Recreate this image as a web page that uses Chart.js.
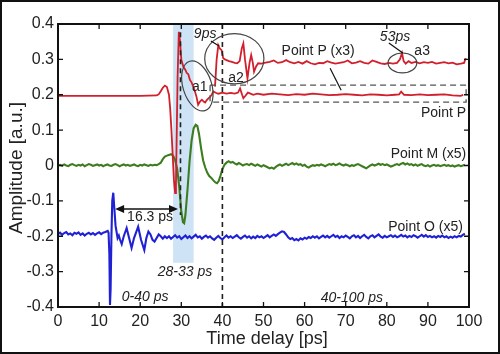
<!DOCTYPE html>
<html>
<head>
<meta charset="utf-8">
<script src="https://cdn.jsdelivr.net/npm/chart.js@4"></script>
<style>
  html, body { margin: 0; padding: 0; background: #fff; }
  #wrap { width: 500px; height: 354px; }
</style>
</head>
<body>
<div id="wrap"><canvas id="traceChart" width="500" height="354"></canvas></div>
<script>
// sample spacing of the quiet (noise) segments, ps
const STEP = 0.5;

// Point P (main trace, continues as lower trace in the dashed box)
const redT = [0, 4, 8, 12, 16, 20, 24, 24.5, 25, 25.5, 26, 26.5, 27, 27.3, 27.6, 27.9, 28.2, 28.5, 28.7, 28.9, 29.1, 29.4, 29.7, 30, 30.5, 31, 31.3, 31.7, 32.1, 32.5, 32.9, 33.3, 33.7, 34.1, 34.5, 35, 35.5, 35.8, 36.2, 36.6, 37, 37.4, 37.8, 38.5, 39, 40, 41, 42, 43, 43.8, 44.3, 44.8, 45.1, 45.6, 46.2, 46.7, 47.5, 48.5, 50, 52, 54, 56, 58, 60, 62, 64, 66, 68, 70, 72, 74, 76, 78, 80, 82, 83, 83.5, 84.2, 86, 88, 90, 92, 94, 96, 98, 98.6];
const redV = [0.197, 0.197, 0.197, 0.197, 0.197, 0.197, 0.198, 0.201, 0.21, 0.22, 0.226, 0.222, 0.2, 0.16, 0.1, 0.03, -0.04, -0.078, -0.05, 0.1, 0.25, 0.378, 0.35, 0.3, 0.279, 0.27, 0.262, 0.258, 0.242, 0.235, 0.223, 0.21, 0.194, 0.172, 0.18, 0.186, 0.18, 0.178, 0.185, 0.19, 0.194, 0.2, 0.209, 0.205, 0.203, 0.206, 0.203, 0.205, 0.203, 0.206, 0.218, 0.2, 0.19, 0.197, 0.206, 0.204, 0.2, 0.203, 0.2, 0.203, 0.201, 0.199, 0.202, 0.2, 0.203, 0.201, 0.199, 0.2, 0.202, 0.2, 0.198, 0.201, 0.2, 0.198, 0.2, 0.201, 0.209, 0.2, 0.199, 0.201, 0.199, 0.2, 0.201, 0.198, 0.197, 0.2];

// Point P (x3), drawn above the dashed box
const redX3T = [38.2, 38.6, 39.0, 39.4, 39.8, 40.2, 40.6, 41.0, 41.6, 42.3, 43, 43.6, 44.2, 44.7, 45.1, 45.5, 46.1, 46.6, 47, 47.4, 47.7, 48.2, 48.7, 49.5, 50.5, 51.5, 52.5, 53.5, 54.5, 55.5, 56.5, 57.5, 58.5, 59.5, 60.5, 61.5, 62.5, 63.5, 64.5, 65.5, 66.5, 67.5, 68.5, 69.5, 70.5, 71.5, 72.5, 73.5, 74.5, 75.5, 76.5, 77.5, 78.5, 79.5, 80.5, 81.5, 82.5, 83.2, 83.7, 84.1, 84.6, 85.3, 86, 87, 88, 89, 90, 91, 92, 93, 94, 95, 96, 97, 98, 98.8, 99.2];
const redX3V = [0.223, 0.3, 0.34, 0.33, 0.326, 0.303, 0.3, 0.298, 0.295, 0.293, 0.29, 0.289, 0.295, 0.33, 0.345, 0.3, 0.246, 0.29, 0.312, 0.29, 0.265, 0.28, 0.289, 0.288, 0.291, 0.293, 0.297, 0.29, 0.292, 0.298, 0.292, 0.289, 0.293, 0.288, 0.295, 0.289, 0.286, 0.29, 0.289, 0.295, 0.291, 0.288, 0.29, 0.292, 0.297, 0.289, 0.291, 0.295, 0.29, 0.288, 0.297, 0.293, 0.289, 0.287, 0.29, 0.288, 0.29, 0.3, 0.318, 0.295, 0.288, 0.295, 0.29, 0.293, 0.289, 0.292, 0.29, 0.293, 0.288, 0.29, 0.292, 0.289, 0.291, 0.286, 0.288, 0.29, 0.303];

// Point M (x5)
const greenQuietA = [0.0, 0.002, -0.001, 0.003, 0.0, -0.002, 0.002, 0.004, 0.001, -0.001, 0.002, 0.0, 0.003, -0.002, 0.001, 0.004, 0.002, -0.001, 0.001, 0.003, 0.0, 0.002, -0.002, 0.001, 0.003, 0.0, -0.001, 0.002, 0.004, 0.001, -0.002, 0.001, 0.003, 0.0, 0.002, -0.001, 0.001, 0.003, 0.0, -0.002, 0.002, 0.0, 0.003, 0.001, -0.001, 0.002, 0.0, 0.002, 0.001, 0.004]; // from 0 ps
const greenT = [25, 25.5, 26, 26.5, 27, 27.5, 28, 28.5, 29, 29.5, 30, 30.4, 30.7, 31, 31.5, 32, 32.5, 33, 33.5, 33.9, 34.3, 34.8, 35.3, 35.8, 36.3, 36.8, 37.3, 37.8, 38.3, 38.7, 39.1, 39.5, 40, 40.5, 41, 41.5, 42, 42.5, 43, 43.5, 44, 44.5, 45, 45.5];
const greenV = [0.008, 0.018, 0.025, 0.028, 0.03, 0.032, 0.028, 0.015, -0.01, -0.06, -0.13, -0.16, -0.163, -0.14, -0.07, 0.01, 0.07, 0.105, 0.115, 0.112, 0.09, 0.05, 0.015, -0.005, -0.02, -0.03, -0.035, -0.042, -0.048, -0.05, -0.044, -0.03, -0.01, 0.002, 0.008, 0.012, 0.008, 0.01, 0.006, 0.003, 0.007, 0.004, 0.0, 0.003];
const greenQuietB = [0.004, 0.001, 0.005, 0.002, -0.001, 0.003, 0.0, -0.003, 0.001, -0.002, -0.005, -0.008, -0.006, -0.009, -0.004, 0.0, 0.003, -0.001, 0.002, 0.005, 0.001, 0.004, 0.007, 0.003, 0.006, 0.002, 0.004, -0.001, 0.002, -0.003, -0.006, -0.002, 0.001, -0.001, 0.002, 0.0, 0.003, 0.001, -0.002, 0.001, 0.004, 0.002, 0.005, 0.001, 0.003, 0.006, 0.002, 0.0, 0.003, 0.001, -0.002, 0.001, -0.001, 0.002, 0.004, 0.001, -0.002, -0.005, -0.008, -0.004, 0.0, 0.003, 0.0, 0.002, 0.005, 0.002, 0.004, 0.001, 0.003, 0.0, -0.003, -0.001, 0.002, 0.004, 0.001, 0.005, 0.007, 0.003, 0.006, 0.002, 0.004, 0.0, 0.003, -0.001, 0.002, 0.004, 0.0, -0.002, 0.001, -0.003, 0.0, 0.002, -0.001, 0.001, -0.002, 0.0, 0.002, -0.001, 0.001, -0.002, 0.0, -0.003, -0.001, 0.001, -0.002, 0.0, 0.002]; // from 46 ps

// Point O (x5)
const blueQuietA = [-0.194, -0.19, -0.196, -0.191, -0.188, -0.195, -0.192, -0.197, -0.19, -0.193, -0.189, -0.196, -0.192, -0.198, -0.193, -0.19, -0.195, -0.191, -0.196, -0.192, -0.189, -0.194, -0.19, -0.188]; // from 0 ps
const blueT = [12.1, 12.3, 12.5, 12.65, 12.8, 13.0, 13.2, 13.45, 13.7, 14.0, 14.5, 14.8, 15.1, 15.5, 16.0, 16.7, 17.3, 17.9, 18.5, 19.5, 20.2, 21.0, 21.5, 22.0, 22.5, 23.0, 23.5, 24, 24.5, 25, 25.5, 26];
const blueV = [-0.185, -0.19, -0.25, -0.394, -0.35, -0.2, -0.1, -0.077, -0.12, -0.17, -0.205, -0.198, -0.21, -0.222, -0.2, -0.177, -0.205, -0.233, -0.205, -0.173, -0.21, -0.239, -0.205, -0.187, -0.195, -0.21, -0.215, -0.205, -0.195, -0.2, -0.207, -0.2];
const blueQuietB = [-0.205, -0.2, -0.207, -0.202, -0.197, -0.204, -0.2, -0.208, -0.203, -0.198, -0.205, -0.2, -0.206, -0.201, -0.196, -0.203, -0.2, -0.207, -0.202, -0.198, -0.204, -0.2, -0.206, -0.21, -0.204, -0.199, -0.205, -0.209, -0.203, -0.198, -0.204, -0.2, -0.205, -0.201, -0.197, -0.203, -0.207, -0.202, -0.198, -0.204, -0.2, -0.206, -0.201, -0.205, -0.199, -0.203, -0.2, -0.205, -0.201, -0.197, -0.203, -0.199, -0.195, -0.199, -0.194, -0.19, -0.186, -0.188, -0.195, -0.203, -0.208, -0.205, -0.211, -0.208, -0.212, -0.206, -0.209, -0.204, -0.207, -0.202, -0.205, -0.2, -0.204, -0.2, -0.206, -0.202, -0.198, -0.203, -0.199, -0.204, -0.2, -0.196, -0.202, -0.199, -0.205, -0.2, -0.203, -0.198, -0.202, -0.206, -0.2, -0.197, -0.203, -0.199, -0.205, -0.2, -0.196, -0.202, -0.206, -0.2, -0.197, -0.203, -0.199, -0.195, -0.201, -0.204, -0.199, -0.203, -0.2, -0.197, -0.202, -0.198, -0.203, -0.2, -0.196, -0.201, -0.198, -0.203, -0.199, -0.202, -0.197, -0.2, -0.204, -0.2, -0.196, -0.201, -0.197, -0.202, -0.199, -0.203, -0.2, -0.204, -0.199, -0.202, -0.198, -0.203, -0.2, -0.205, -0.201, -0.204, -0.2, -0.203, -0.199, -0.201, -0.196, -0.193]; // from 26.5 ps

const xTicks = [0, 10, 20, 30, 40, 50, 60, 70, 80, 90, 100];
const yTicks = [-0.4, -0.3, -0.2, -0.1, 0, 0.1, 0.2, 0.3, 0.4];

function pairs(t, v) { return t.map((x, i) => ({ x: x, y: v[i] })); }
function sampled(start, v) { return v.map((y, i) => ({ x: start + i * STEP, y: y })); }

const FONT = '"Liberation Sans", Arial, sans-serif';

const overlay = {
    id: 'overlay',
    beforeDatasetsDraw(chart) {
        const { ctx, scales: { x, y } } = chart;
        ctx.save();
        // 28-33 ps band
        ctx.fillStyle = 'rgba(190, 218, 242, 0.75)';
        ctx.fillRect(x.getPixelForValue(28), y.getPixelForValue(0.4),
            x.getPixelForValue(33) - x.getPixelForValue(28),
            y.getPixelForValue(-0.275) - y.getPixelForValue(0.4));
        ctx.restore();
    },
    afterDatasetsDraw(chart) {
        const { ctx, scales: { x, y } } = chart;
        const px = v => x.getPixelForValue(v);
        const py = v => y.getPixelForValue(v);
        ctx.save();

        // dashed markers
        ctx.strokeStyle = '#222';
        ctx.lineWidth = 1.6;
        ctx.setLineDash([5, 4]);
        ctx.beginPath();
        ctx.moveTo(px(40), py(0.4)); ctx.lineTo(px(40), py(-0.4));
        ctx.moveTo(px(29.8), py(0.377)); ctx.lineTo(px(29.8), py(-0.14));
        ctx.stroke();

        // dashed box round Point P
        ctx.strokeStyle = '#555';
        ctx.lineWidth = 1.3;
        ctx.setLineDash([6, 4]);
        ctx.strokeRect(px(37), py(0.227), px(99.3) - px(37), py(0.179) - py(0.227));
        ctx.setLineDash([]);

        // ellipses
        ctx.strokeStyle = '#444';
        ctx.lineWidth = 1.2;
        const ell = (cx, cy, rx, ry, rot) => {
            ctx.beginPath();
            ctx.ellipse(px(cx), py(cy), px(cx + rx) - px(cx), py(cy) - py(cy + ry), rot, 0, Math.PI * 2);
            ctx.stroke();
        };
        ell(33.9, 0.225, 3.5, 0.073, -0.3);
        ell(42.9, 0.302, 7.2, 0.071, 0);
        ell(83.8, 0.29, 3.5, 0.028, 0);

        // leader lines
        ctx.strokeStyle = '#111';
        ctx.lineWidth = 1.2;
        const seg = (x1, y1, x2, y2) => {
            ctx.beginPath(); ctx.moveTo(px(x1), py(y1)); ctx.lineTo(px(x2), py(y2)); ctx.stroke();
        };
        seg(37.2, 0.352, 39.2, 0.338);
        seg(66.2, 0.275, 68.9, 0.213);
        seg(80.5, 0.346, 83.9, 0.318);

        // 16.3 ps arrow
        const ay = py(-0.123), ax1 = px(13.9), ax2 = px(29.2);
        ctx.lineWidth = 1.5;
        ctx.beginPath(); ctx.moveTo(ax1 + 4, ay); ctx.lineTo(ax2 - 4, ay); ctx.stroke();
        ctx.fillStyle = '#111';
        ctx.beginPath(); ctx.moveTo(ax1, ay); ctx.lineTo(ax1 + 9, ay - 4); ctx.lineTo(ax1 + 9, ay + 4); ctx.closePath(); ctx.fill();
        ctx.beginPath(); ctx.moveTo(ax2, ay); ctx.lineTo(ax2 - 9, ay - 4); ctx.lineTo(ax2 - 9, ay + 4); ctx.closePath(); ctx.fill();

        // texts
        ctx.fillStyle = '#222';
        ctx.textBaseline = 'middle';
        const txt = (s, tx, ty, align, italic) => {
            ctx.font = (italic ? 'italic ' : '') + '14px ' + FONT;
            ctx.textAlign = align;
            ctx.fillText(s, px(tx), py(ty));
        };
        txt('9ps', 35.8, 0.371, 'center', true);
        txt('a1', 34.5, 0.222, 'center', false);
        txt('a2', 43.3, 0.247, 'center', false);
        txt('Point P (x3)', 63.3, 0.323, 'center', false);
        txt('53ps', 82, 0.363, 'center', true);
        txt('a3', 88.6, 0.323, 'center', false);
        txt('Point P', 99.3, 0.148, 'right', false);
        txt('Point M (x5)', 99.3, 0.032, 'right', false);
        txt('Point O (x5)', 98.5, -0.174, 'right', false);
        txt('16.3 ps', 22.4, -0.145, 'center', false);
        txt('28-33 ps', 30.9, -0.3, 'center', true);
        txt('0-40 ps', 21.2, -0.371, 'center', true);
        txt('40-100 ps', 71.5, -0.374, 'center', true);
        ctx.restore();
    },
    afterDraw(chart) {
        const { ctx, chartArea: a, scales: { x, y } } = chart;
        ctx.save();
        // plot frame and inward ticks
        ctx.strokeStyle = '#111';
        ctx.lineWidth = 2;
        ctx.strokeRect(a.left, a.top, a.right - a.left, a.bottom - a.top);
        ctx.lineWidth = 1.3;
        ctx.beginPath();
        xTicks.forEach(v => {
            const p = x.getPixelForValue(v);
            ctx.moveTo(p, a.bottom); ctx.lineTo(p, a.bottom - 5);
            ctx.moveTo(p, a.top); ctx.lineTo(p, a.top + 5);
        });
        yTicks.forEach(v => {
            const p = y.getPixelForValue(v);
            ctx.moveTo(a.left, p); ctx.lineTo(a.left + 5, p);
            ctx.moveTo(a.right, p); ctx.lineTo(a.right - 5, p);
        });
        ctx.stroke();

        // axis titles
        ctx.fillStyle = '#222';
        ctx.font = '18px ' + FONT;
        ctx.textAlign = 'center';
        ctx.textBaseline = 'middle';
        ctx.fillText('Time delay [ps]', 267, 339);
        ctx.translate(17, 168);
        ctx.rotate(-Math.PI / 2);
        ctx.font = '19px ' + FONT;
        ctx.fillText('Amplitude [a.u.]', 0, 0);
        ctx.restore();

        // picture border
        ctx.save();
        ctx.strokeStyle = '#111';
        ctx.lineWidth = 2;
        ctx.strokeRect(1, 1, chart.width - 2, chart.height - 2);
        ctx.restore();
    }
};

const lineSet = (data, color, width) => ({
    data: data,
    showLine: true,
    borderColor: color,
    borderWidth: width,
    pointRadius: 0,
    tension: 0,
    fill: false
});

new Chart(document.getElementById('traceChart').getContext('2d'), {
    type: 'scatter',
    data: {
        datasets: [
            lineSet(pairs(redT, redV), '#d21f2c', 1.8),
            lineSet(pairs(redX3T, redX3V), '#d21f2c', 1.8),
            lineSet(sampled(0, greenQuietA).concat(pairs(greenT, greenV), sampled(46, greenQuietB)), '#3d7d1f', 2.1),
            lineSet(sampled(0, blueQuietA).concat(pairs(blueT, blueV), sampled(26.5, blueQuietB)), '#2121d4', 2.1)
        ]
    },
    options: {
        responsive: false,
        animation: false,
        layout: { padding: { top: 24, right: 31, left: 0, bottom: 0 } },
        plugins: { legend: { display: false }, tooltip: { enabled: false } },
        scales: {
            x: {
                type: 'linear', min: 0, max: 100,
                afterBuildTicks: s => { s.ticks = xTicks.map(v => ({ value: v })); },
                afterFit: s => { s.height = 47; },
                ticks: { color: '#222', padding: 5, font: { size: 16, family: FONT } },
                grid: { drawOnChartArea: false, drawTicks: false },
                border: { color: '#111', width: 2 }
            },
            y: {
                type: 'linear', min: -0.4, max: 0.4,
                afterBuildTicks: s => { s.ticks = yTicks.map(v => ({ value: v })); },
                afterFit: s => { s.width = 58; },
                ticks: {
                    color: '#222', padding: 4, font: { size: 16, family: FONT },
                    callback: v => (Math.abs(v) < 1e-9 ? '0' : v.toFixed(1))
                },
                grid: { drawOnChartArea: false, drawTicks: false },
                border: { color: '#111', width: 2 }
            }
        }
    },
    plugins: [overlay]
});
</script>
</body>
</html>
